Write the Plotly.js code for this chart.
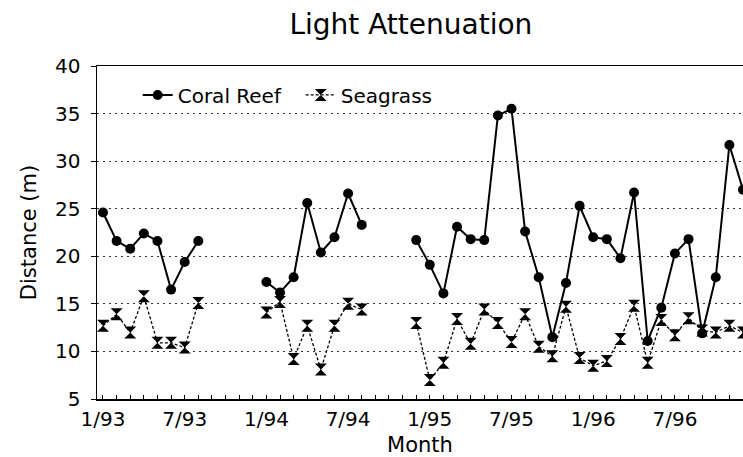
<!DOCTYPE html>
<html>
<head>
<meta charset="utf-8">
<script src="https://cdn.plot.ly/plotly-3.0.1.min.js"></script>
<style>
  html, body { margin: 0; padding: 0; background: #fff; overflow: hidden; }
  #chart { width: 743px; height: 457px; }
</style>
</head>
<body>
<div id="chart"></div>
<script>
// Sampling months (Jan 1993 .. Dec 1996)
const sampleMonths = [
  '1/93','2/93','3/93','4/93','5/93','6/93','7/93','8/93','9/93','10/93','11/93','12/93',
  '1/94','2/94','3/94','4/94','5/94','6/94','7/94','8/94','9/94','10/94','11/94','12/94',
  '1/95','2/95','3/95','4/95','5/95','6/95','7/95','8/95','9/95','10/95','11/95','12/95',
  '1/96','2/96','3/96','4/96','5/96','6/96','7/96','8/96','9/96','10/96','11/96','12/96'
];

// Months that carry a tick label
const labeledMonths = ['1/93','7/93','1/94','7/94','1/95','7/95','1/96','7/96'];

// Light attenuation distance (m); null = no sample
const coralReef = [
  24.6, 21.6, 20.8, 22.4, 21.6, 16.5, 19.4, 21.6,
  null, null, null, null,
  17.3, 16.2, 17.8, 25.6, 20.4, 22.0, 26.6, 23.3,
  null, null, null,
  21.7, 19.1, 16.1, 23.1, 21.8, 21.7, 34.8, 35.5, 22.6, 17.8, 11.5, 17.2,
  25.3, 22.0, 21.8, 19.8, 26.7, 11.1, 14.6, 20.3, 21.8, 11.9, 17.8, 31.7, 27.0
];

const seagrass = [
  12.7, 13.9, 12.0, 15.8, 10.9, 10.9, 10.4, 15.1,
  null, null, null, null,
  14.1, 15.2, 9.2, 12.7, 8.1, 12.7, 15.0, 14.4,
  null, null, null,
  13.0, 7.0, 8.8, 13.4, 10.8, 14.4, 13.0, 11.0, 13.9, 10.5, 9.5, 14.7,
  9.3, 8.5, 9.0, 11.3, 14.8, 8.8, 13.3, 11.7, 13.5, 12.2, 12.0, 12.7, 12.0
];

const tickText = sampleMonths.map(m => labeledMonths.includes(m) ? m : '');

const FONT = 'DejaVu Sans, Liberation Sans, Arial, sans-serif';

const traces = [
  {
    type: 'scatter', mode: 'lines+markers', name: 'Coral Reef',
    x: sampleMonths, y: coralReef, connectgaps: false,
    line: { color: '#000', width: 2 },
    marker: { symbol: 'circle', size: 10, color: '#000' }
  },
  {
    type: 'scatter', mode: 'lines+markers', name: 'Seagrass',
    x: sampleMonths, y: seagrass, connectgaps: false,
    line: { color: '#000', width: 1.3, dash: '3px,2px' },
    marker: { symbol: 'hourglass', size: 12, color: '#000' }
  }
];

const layout = {
  width: 743, height: 457,
  margin: { l: 97, r: 0, t: 66, b: 58 },
  paper_bgcolor: '#fff', plot_bgcolor: '#fff',
  font: { family: FONT, color: '#000', size: 20 },
  title: {
    text: 'Light Attenuation',
    font: { family: FONT, size: 28, color: '#000' },
    xref: 'container', x: 0.553, xanchor: 'center',
    yref: 'container', y: 0.9475, yanchor: 'middle'
  },
  showlegend: true,
  legend: {
    orientation: 'h', x: 0.063, xanchor: 'left', y: 0.913, yanchor: 'middle',
    font: { family: FONT, size: 20, color: '#000' },
    bgcolor: 'rgba(0,0,0,0)', borderwidth: 0,
    entrywidth: 118, entrywidthmode: 'pixels'
  },
  xaxis: {
    type: 'category',
    range: [-0.44, 47.0],
    tickmode: 'array', tickvals: sampleMonths, ticktext: tickText,
    ticks: 'inside', ticklen: 4, tickcolor: '#000', tickwidth: 1,
    tickfont: { family: FONT, size: 20, color: '#000' },
    ticklabelstandoff: 1,
    showgrid: false, zeroline: false,
    showline: true, linecolor: '#000', linewidth: 1.5, mirror: true,
    title: { text: 'Month', font: { family: FONT, size: 21, color: '#000' }, standoff: 11 }
  },
  yaxis: {
    range: [5, 40], dtick: 5, tick0: 5,
    ticks: 'outside', ticklen: 5, tickcolor: '#000', tickwidth: 1,
    tickfont: { family: FONT, size: 20, color: '#000' },
    ticklabelstandoff: 6,
    showgrid: true, gridcolor: '#333', gridwidth: 1, griddash: '2px,4px',
    zeroline: false,
    showline: true, linecolor: '#000', linewidth: 1.5,
    title: { text: 'Distance (m)', font: { family: FONT, size: 21, color: '#000' }, standoff: 12 }
  }
};

Plotly.newPlot('chart', traces, layout, { staticPlot: true, displayModeBar: false });
</script>
</body>
</html>
